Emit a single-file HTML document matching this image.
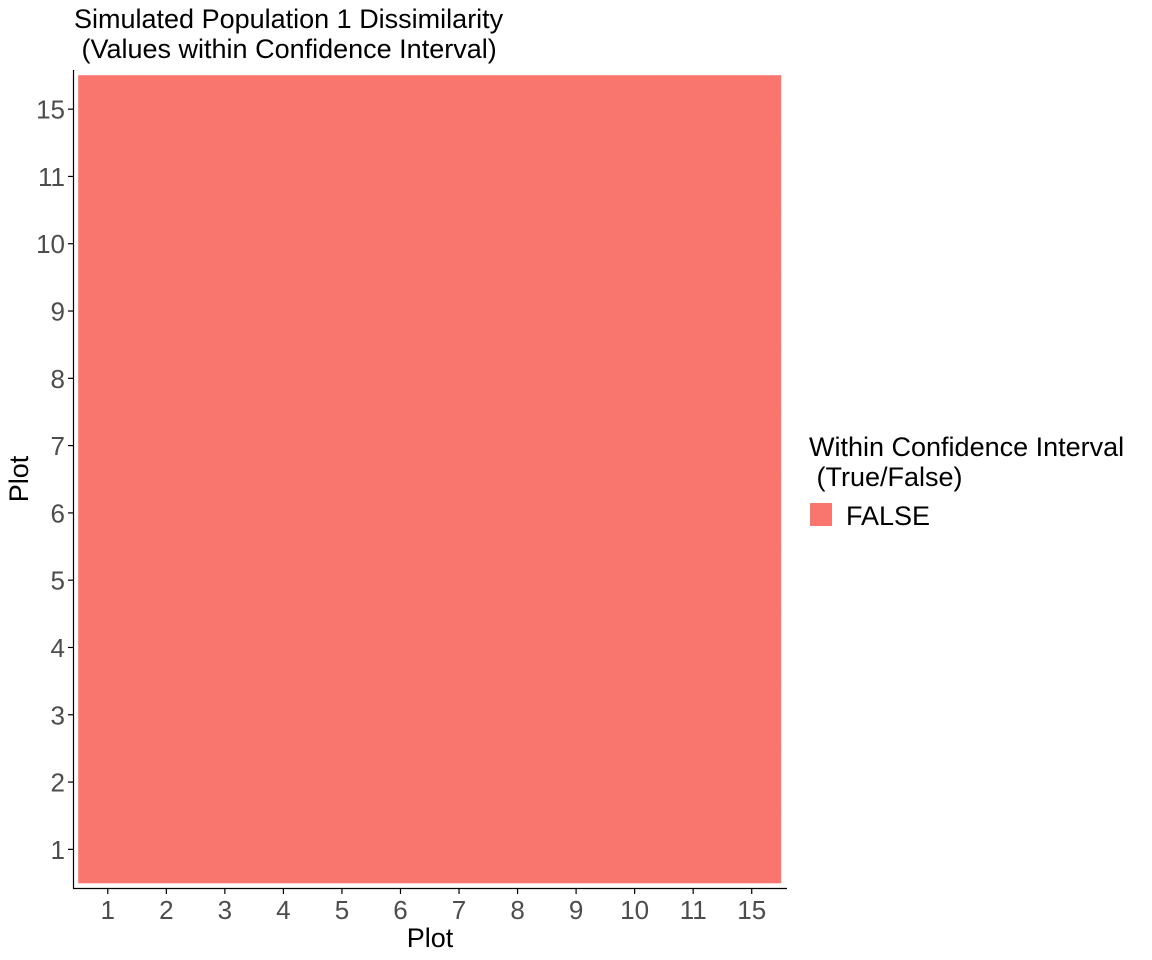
<!DOCTYPE html>
<html><head><meta charset="utf-8">
<style>
html,body{margin:0;padding:0;background:#fff;}
svg{display:block;font-family:"Liberation Sans",Arial,sans-serif;}
</style></head>
<body>
<svg id="chart" width="1152" height="960" viewBox="0 0 1152 960" xmlns="http://www.w3.org/2000/svg">
  <rect x="0" y="0" width="1152" height="960" fill="#fff"/>
  <text x="74" y="28" font-size="27" fill="#000">Simulated Population 1 Dissimilarity</text>
  <text x="74" y="58" font-size="27" fill="#000">&#160;(Values within Confidence Interval)</text>
  <g id="cells"></g>
  <g id="axes"></g>
  <text x="430" y="947" font-size="27" text-anchor="middle" fill="#000">Plot</text>
  <text transform="translate(28,479) rotate(-90)" font-size="27" text-anchor="middle" fill="#000">Plot</text>
  <g>
    <text x="809" y="456" font-size="27" fill="#000">Within Confidence Interval</text>
    <text x="809" y="486" font-size="27" fill="#000">&#160;(True/False)</text>
    <rect x="810" y="503" width="22" height="23" fill="#F8766D"/>
    <text x="846" y="525" font-size="27" fill="#000">FALSE</text>
  </g>
</svg>
<script>
const xCategories = ["1","2","3","4","5","6","7","8","9","10","11","15"];
const yCategories = ["1","2","3","4","5","6","7","8","9","10","11","15"];
const cellValues = [
  [false,false,false,false,false,false,false,false,false,false,false,false],
  [false,false,false,false,false,false,false,false,false,false,false,false],
  [false,false,false,false,false,false,false,false,false,false,false,false],
  [false,false,false,false,false,false,false,false,false,false,false,false],
  [false,false,false,false,false,false,false,false,false,false,false,false],
  [false,false,false,false,false,false,false,false,false,false,false,false],
  [false,false,false,false,false,false,false,false,false,false,false,false],
  [false,false,false,false,false,false,false,false,false,false,false,false],
  [false,false,false,false,false,false,false,false,false,false,false,false],
  [false,false,false,false,false,false,false,false,false,false,false,false],
  [false,false,false,false,false,false,false,false,false,false,false,false],
  [false,false,false,false,false,false,false,false,false,false,false,false]
];

const NS = "http://www.w3.org/2000/svg";
const panelLeft = 78.5, panelRight = 781, panelTop = 75.5, panelBottom = 883;
const stepX = (panelRight - panelLeft) / xCategories.length;
const stepY = (panelBottom - panelTop) / yCategories.length;
function xScale(i){ return panelLeft + stepX * (i + 0.5); }
function yScale(i){ return panelBottom - stepY * (i + 0.5); }
const colors = {false:"#F8766D", true:"#00BFC4"};

const cells = document.getElementById("cells");
for (let r = 0; r < yCategories.length; r++) {
  for (let c = 0; c < xCategories.length; c++) {
    const v = cellValues[r][c];
    const rect = document.createElementNS(NS, "rect");
    rect.setAttribute("x", xScale(c) - stepX/2 - 0.3);
    rect.setAttribute("y", yScale(r) - stepY/2 - 0.3);
    rect.setAttribute("width", stepX + 0.6);
    rect.setAttribute("height", stepY + 0.6);
    rect.setAttribute("fill", colors[v]);
    
    
    cells.appendChild(rect);
  }
}

const axes = document.getElementById("axes");
function line(x1,y1,x2,y2,name){
  const l = document.createElementNS(NS,"line");
  l.setAttribute("x1",x1); l.setAttribute("y1",y1);
  l.setAttribute("x2",x2); l.setAttribute("y2",y2);
  l.setAttribute("stroke","#000"); l.setAttribute("stroke-width","1.2");
  
  
  axes.appendChild(l);
}
function label(x,y,t,anchor,name){
  const e = document.createElementNS(NS,"text");
  e.setAttribute("x",x); e.setAttribute("y",y);
  e.setAttribute("font-size","26"); e.setAttribute("fill","#4d4d4d");
  e.setAttribute("text-anchor",anchor);
  e.textContent = t;
  
  
  axes.appendChild(e);
}
line(73.5, 70, 73.5, 888.5, "y-axis-line");
line(73, 888.5, 787, 888.5, "x-axis-line");
xCategories.forEach((t,i)=>{
  line(xScale(i), 888.5, xScale(i), 894, "x-tick");
  label(xScale(i), 919, t, "middle", "x-tick-label");
});
yCategories.forEach((t,i)=>{
  line(68, yScale(i), 73.5, yScale(i), "y-tick");
  label(65, yScale(i) + 9.5, t, "end", "y-tick-label");
});
</script>
</body></html>
